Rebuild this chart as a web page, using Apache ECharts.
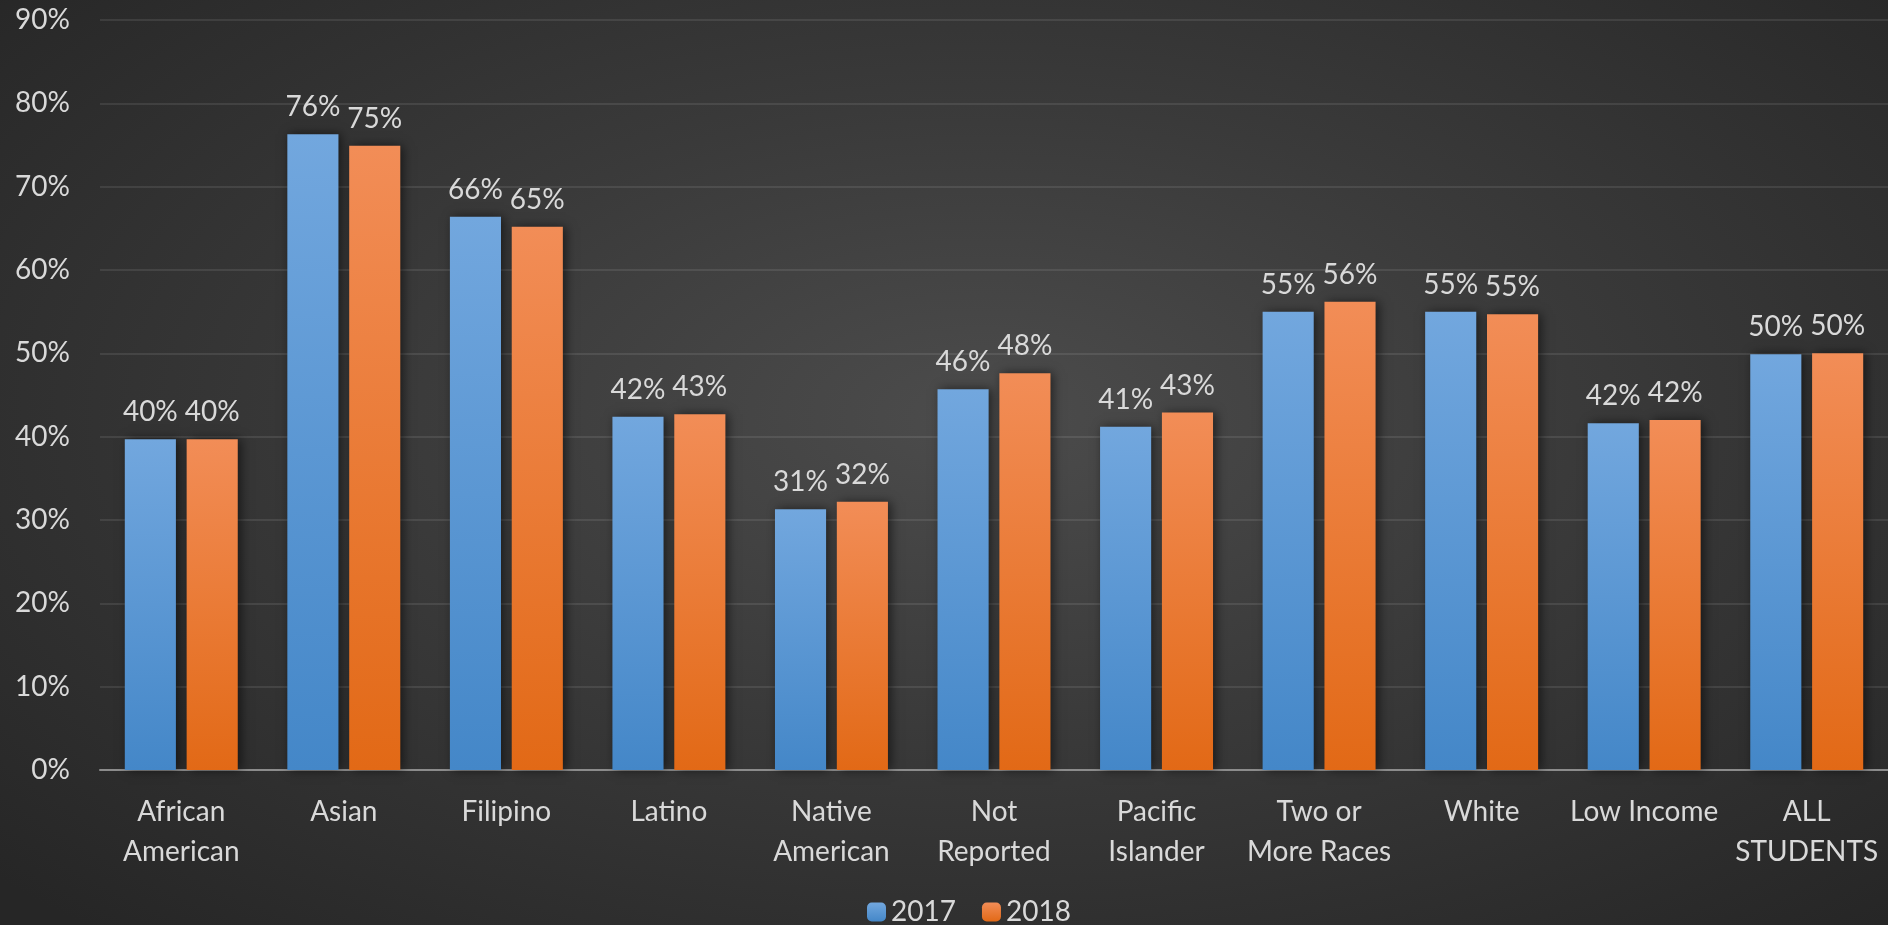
<!DOCTYPE html>
<html><head><meta charset="utf-8">
<script src="https://cdn.jsdelivr.net/npm/echarts@6/dist/echarts.min.js"></script>
<style>
html,body{margin:0;padding:0;}
#c{width:1888px;height:925px;background:radial-gradient(ellipse 70% 75% at 52% 45%, #4c4c4c 0%, #3a3a3a 45%, #262626 100%);}
</style></head>
<body><div id="c"></div>
<script>
const categories = ["African\nAmerican","Asian","Filipino","Latino","Native\nAmerican","Not\nReported","Pacific\nIslander","Two or\nMore Races","White","Low Income","ALL\nSTUDENTS"];
const values2017 = [39.7, 76.3, 66.4, 42.4, 31.3, 45.7, 41.2, 55.0, 55.0, 41.6, 49.9];
const values2018 = [39.7, 74.9, 65.2, 42.7, 32.2, 47.6, 42.9, 56.2, 54.7, 42.0, 50.0];
const yTicks = {min: 0, max: 90, interval: 10};

const FONT = 'Lato';
const TXT = '#d9d9d9';
const chart = echarts.init(document.getElementById('c'), null, {renderer:'canvas'});
function grad(top, bottom){
  return new echarts.graphic.LinearGradient(0,0,0,1,[{offset:0,color:top},{offset:1,color:bottom}]);
}
const labelCfg = {show:true, position:'top', distance:13, color:TXT, fontFamily:FONT, fontSize:28,
  formatter: p => Math.round(p.value) + '%'};
chart.setOption({
  backgroundColor:'transparent',
  textStyle:{fontFamily:FONT},
  animation:false,
  grid:{left:100, right:0, top:20, bottom:155, containLabel:false},
  legend:{top:893, left:862, itemWidth:19, itemHeight:19, itemGap:26,
    textStyle:{color:TXT, fontSize:28, fontFamily:FONT},
    data:['2017','2018']},
  xAxis:{type:'category', data:categories,
    axisLine:{lineStyle:{color:'#8c8c8c', width:2}},
    axisTick:{show:false},
    axisLabel:{color:TXT, fontSize:28, fontFamily:FONT, lineHeight:40, margin:22, interval:0}},
  yAxis:{type:'value', min:yTicks.min, max:yTicks.max, interval:yTicks.interval,
    axisLabel:{color:TXT, fontSize:28, fontFamily:FONT, margin:30, formatter:'{value}%'},
    axisLine:{show:false}, axisTick:{show:false},
    splitLine:{lineStyle:{color:'rgba(255,255,255,0.12)', width:1.5}}},
  series:[
    {name:'2017', type:'bar', data:values2017, barGap:'21%', barCategoryGap:'30.5%',
      itemStyle:{color:grad('#72a7de','#4487c8'), shadowBlur:10, shadowColor:'rgba(0,0,0,0.55)', shadowOffsetX:3, shadowOffsetY:0},
      label:labelCfg},
    {name:'2018', type:'bar', data:values2018,
      itemStyle:{color:grad('#f28d57','#e26916'), shadowBlur:10, shadowColor:'rgba(0,0,0,0.55)', shadowOffsetX:3, shadowOffsetY:0},
      label:labelCfg}
  ]
});
</script></body></html>
